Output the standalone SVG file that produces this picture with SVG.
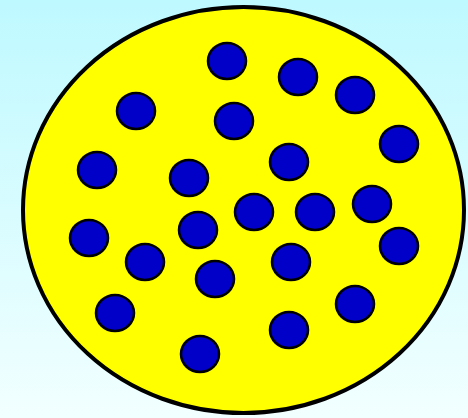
<svg xmlns="http://www.w3.org/2000/svg" width="468" height="418" viewBox="0 0 468 418">
<defs>
<linearGradient id="bg" x1="0" y1="0" x2="0" y2="1">
<stop offset="0" stop-color="#bef9ff"/>
<stop offset="1" stop-color="#f2ffff"/>
</linearGradient>
<style>
.dot{fill:#0000c8;stroke:#000;stroke-width:2.5}
</style>
</defs>
<rect width="468" height="418" fill="url(#bg)"/>
<ellipse id="plate" cx="243.5" cy="210" rx="220.5" ry="203" fill="#ffff00" stroke="#000" stroke-width="4"/>
<g id="dots">
<ellipse class="dot" cx="227" cy="61" rx="19" ry="18"/>
<ellipse class="dot" cx="298" cy="77" rx="19" ry="18"/>
<ellipse class="dot" cx="355" cy="95" rx="19" ry="18"/>
<ellipse class="dot" cx="136" cy="111" rx="19" ry="18"/>
<ellipse class="dot" cx="234" cy="121" rx="19" ry="18"/>
<ellipse class="dot" cx="399" cy="144" rx="19" ry="18"/>
<ellipse class="dot" cx="289" cy="162" rx="19" ry="18"/>
<ellipse class="dot" cx="97" cy="170" rx="19" ry="18"/>
<ellipse class="dot" cx="189" cy="178" rx="19" ry="18"/>
<ellipse class="dot" cx="372" cy="204" rx="19" ry="18"/>
<ellipse class="dot" cx="254" cy="212" rx="19" ry="18"/>
<ellipse class="dot" cx="315" cy="212" rx="19" ry="18"/>
<ellipse class="dot" cx="89" cy="238" rx="19" ry="18"/>
<ellipse class="dot" cx="198" cy="230" rx="19" ry="18"/>
<ellipse class="dot" cx="399" cy="246" rx="19" ry="18"/>
<ellipse class="dot" cx="145" cy="262" rx="19" ry="18"/>
<ellipse class="dot" cx="291" cy="262" rx="19" ry="18"/>
<ellipse class="dot" cx="215" cy="279" rx="19" ry="18"/>
<ellipse class="dot" cx="115" cy="313" rx="19" ry="18"/>
<ellipse class="dot" cx="355" cy="304" rx="19" ry="18"/>
<ellipse class="dot" cx="289" cy="330" rx="19" ry="18"/>
<ellipse class="dot" cx="200" cy="354" rx="19" ry="18"/>
</g>
</svg>
